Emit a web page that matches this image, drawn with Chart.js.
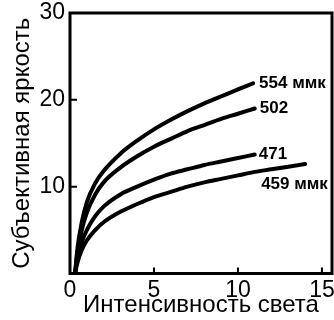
<!DOCTYPE html>
<html>
<head>
<meta charset="utf-8">
<script src="https://cdn.jsdelivr.net/npm/chart.js@4"></script>
<style>
  html, body { margin: 0; padding: 0; background: #fff; }
</style>
</head>
<body>
<canvas id="chart" width="334" height="320"></canvas>
<script>
"use strict";

// data
const x554 = [0.3, 0.45, 0.7, 1, 1.5, 2, 3, 4, 5, 6, 7, 8, 9, 10, 10.9];
const y554 = [0, 3, 5.9, 8.2, 10.4, 11.8, 13.8, 15.3, 16.6, 17.7, 18.7, 19.6, 20.4, 21.2, 21.9];

const x502 = [0.3, 0.45, 0.7, 1, 1.5, 2, 3, 4, 5, 6, 7, 8, 9, 10, 11];
const y502 = [0, 2.5, 5.0, 7.0, 9.1, 10.5, 12.2, 13.5, 14.6, 15.5, 16.4, 17.1, 17.8, 18.4, 19.0];

const x471 = [0.3, 0.45, 0.7, 1, 1.5, 2, 3, 4, 5, 6, 7, 8, 9, 10, 11];
const y471 = [0, 1.8, 3.6, 5.0, 6.6, 7.7, 9.1, 10.0, 10.8, 11.5, 12.0, 12.5, 12.9, 13.3, 13.7];

const x459 = [0.3, 0.45, 0.7, 1, 1.5, 2, 3, 4, 5, 6, 7, 8, 9, 10, 11, 12, 13, 14];
const y459 = [0, 1.3, 2.7, 3.8, 5.0, 5.9, 7.1, 8.0, 8.8, 9.4, 10.0, 10.5, 10.9, 11.3, 11.7, 12.0, 12.3, 12.6];

const curveLabels = ["554 ммк", "502", "471", "459 ммк"];
const xTickValues = [0, 5, 10, 15];
const yTickValues = [0, 10, 20, 30];

const FONT = "'Liberation Sans', Arial, sans-serif";

const toPoints = (xs, ys) => xs.map((x, i) => ({ x: x, y: ys[i] }));

const series = [
  toPoints(x554, y554),
  toPoints(x502, y502),
  toPoints(x471, y471),
  toPoints(x459, y459),
];

// where each label sits relative to the end of its curve
const labelOffsets = [
  { dx: 6, dy: 0 },
  { dx: 5, dy: 0 },
  { dx: 4, dy: 0 },
  { dx: -44, dy: 20 },
];

const framePlugin = {
  id: "frame",
  afterDatasetsDraw(chart) {
    const { ctx, chartArea: a, scales } = chart;
    ctx.save();
    ctx.strokeStyle = "#000";
    ctx.lineWidth = 3;
    ctx.strokeRect(a.left, a.top, a.right - a.left, a.bottom - a.top);

    // small inward ticks
    ctx.lineWidth = 2;
    ctx.beginPath();
    scales.x.ticks.forEach((t) => {
      if (t.value === 0) return;
      const px = scales.x.getPixelForValue(t.value);
      ctx.moveTo(px, a.bottom);
      ctx.lineTo(px, a.bottom - 6);
    });
    scales.y.ticks.forEach((t) => {
      if (t.value === 0 || t.value === 30) return;
      const py = scales.y.getPixelForValue(t.value);
      ctx.moveTo(a.left, py);
      ctx.lineTo(a.left + 7, py);
    });
    ctx.stroke();

    // curve labels
    ctx.fillStyle = "#000";
    ctx.font = "bold 17px " + FONT;
    ctx.textBaseline = "middle";
    ctx.textAlign = "left";
    chart.data.datasets.forEach((ds, i) => {
      const pts = chart.getDatasetMeta(i).data;
      const last = pts[pts.length - 1];
      ctx.fillText(curveLabels[i], last.x + labelOffsets[i].dx, last.y + labelOffsets[i].dy);
    });
    ctx.restore();
  },
};

new Chart(document.getElementById("chart"), {
  type: "scatter",
  data: {
    datasets: series.map((pts) => ({
      data: pts,
      showLine: true,
      borderColor: "#000",
      borderWidth: 4,
      pointRadius: 0,
      cubicInterpolationMode: "monotone",
      borderCapStyle: "round",
    })),
  },
  options: {
    responsive: false,
    animation: false,
    layout: { padding: { top: 13, right: 2, left: 0, bottom: 0 } },
    plugins: {
      legend: { display: false },
      tooltip: { enabled: false },
    },
    scales: {
      x: {
        type: "linear",
        min: 0,
        max: 15.6,
        afterBuildTicks: (s) => { s.ticks = xTickValues.map((v) => ({ value: v })); },
        afterFit: (s) => {
          s.height = 46.5;
          s.paddingLeft = 0;
          s.paddingRight = 0;
        },
        grid: { display: false, drawTicks: false },
        border: { display: false },
        ticks: {
          color: "#000",
          padding: 3,
          maxRotation: 0,
          font: { family: FONT, size: 23 },
        },
        title: {
          display: true,
          text: "Интенсивность света",
          color: "#000",
          padding: { top: 0, bottom: 0 },
          font: { family: FONT, size: 24 },
        },
      },
      y: {
        type: "linear",
        min: 0,
        max: 30,
        afterBuildTicks: (s) => { s.ticks = yTickValues.map((v) => ({ value: v })); },
        afterFit: (s) => {
          s.width = 70;
          s.paddingTop = 0;
          s.paddingBottom = 0;
        },
        grid: { display: false, drawTicks: false },
        border: { display: false },
        ticks: {
          color: "#000",
          padding: 5,
          font: { family: FONT, size: 23 },
          callback: (v) => (v === 0 ? "" : v),
        },
        title: {
          display: true,
          text: "Субъективная яркость",
          color: "#000",
          padding: { top: 8, bottom: 0 },
          font: { family: FONT, size: 24 },
        },
      },
    },
  },
  plugins: [framePlugin],
});
</script>
</body>
</html>
